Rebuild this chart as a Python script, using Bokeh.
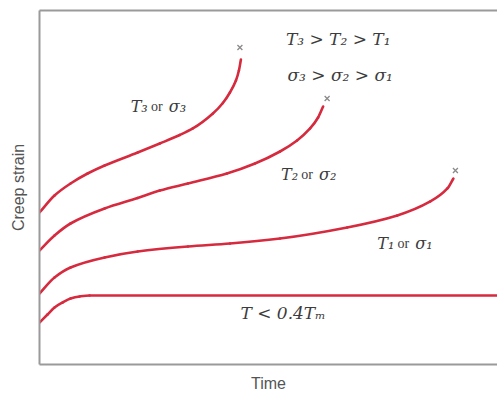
from bokeh.plotting import figure
from bokeh.models import Range1d, LinearAxis, FixedTicker, ColumnDataSource
from bokeh.core.properties import value
from bokeh.embed import file_html
from bokeh.resources import INLINE

# ---- data (time, creep strain) ----
low_t = [0, 1.75, 3.28, 5.03, 6.78, 8.75, 10.94, 100]
low_e = [11.86, 14.12, 16.10, 17.51, 18.64, 19.21, 19.49, 19.49]

t1_t = [0, 3.28, 6.78, 14.22, 21.44, 32.39, 41.58, 52.52, 67.18, 78.12, 85.34, 89.06, 90.37]
t1_e = [20.06, 24.58, 27.40, 30.23, 31.92, 33.33, 34.18, 35.59, 38.70, 42.09, 46.05, 49.72, 52.54]

t2_t = [0, 3.28, 6.78, 14.22, 21.44, 26.26, 32.39, 40.92, 47.05, 52.52, 56.24, 59.08, 60.83, 61.93]
t2_e = [32.20, 36.44, 39.83, 44.07, 47.03, 49.15, 51.13, 53.95, 56.78, 60.17, 63.28, 66.67, 69.77, 72.88]

t3_t = [0, 3.28, 6.78, 10.50, 14.22, 21.44, 26.26, 30.63, 33.48, 37.86, 40.04, 41.58, 42.89, 43.54, 43.98]
t3_e = [42.94, 47.74, 51.13, 53.95, 56.21, 59.89, 62.43, 64.83, 66.67, 70.90, 73.87, 76.84, 80.23, 83.05, 86.16]

# rupture points
rup_t = [90.81, 62.80, 43.76]
rup_e = [54.80, 75.14, 89.55]

# curve labels: temperature part / "or" / stress part
lab_T = ["T\u2083", "T\u2082", "T\u2081"]
lab_s = ["\u03c3\u2083", "\u03c3\u2082", "\u03c3\u2081"]
lab_x = [25.60, 58.42, 79.43]
lab_y = [72.88, 53.67, 34.18]

order_texts = ["T\u2083 > T\u2082 > T\u2081", "\u03c3\u2083 > \u03c3\u2082 > \u03c3\u2081"]
order_x = [65.21, 65.65]
order_y = [92.09, 81.92]

low_text = ["T < 0.4T\u2098"]
low_x = [53.17]
low_y = [14.41]

RED = "#d62a3e"
GREY = "#9a9a9a"
TXT = "#3c3c3c"
SERIF = value("DejaVu Serif")


def smooth_segments(xs, ys):
    """Monotone cubic (Fritsch-Carlson) through the read points, as Bezier segments."""
    n = len(xs)
    h = [xs[i + 1] - xs[i] for i in range(n - 1)]
    d = [(ys[i + 1] - ys[i]) / h[i] for i in range(n - 1)]
    m = [0.0] * n
    m[0], m[-1] = d[0], d[-1]
    for k in range(1, n - 1):
        if d[k - 1] * d[k] <= 0:
            m[k] = 0.0
        else:
            w1 = 2 * h[k] + h[k - 1]
            w2 = h[k] + 2 * h[k - 1]
            m[k] = (w1 + w2) / (w1 / d[k - 1] + w2 / d[k])
    seg = dict(x0=[], y0=[], x1=[], y1=[], cx0=[], cy0=[], cx1=[], cy1=[])
    for i in range(n - 1):
        seg["x0"].append(xs[i]); seg["y0"].append(ys[i])
        seg["x1"].append(xs[i + 1]); seg["y1"].append(ys[i + 1])
        seg["cx0"].append(xs[i] + h[i] / 3); seg["cy0"].append(ys[i] + m[i] * h[i] / 3)
        seg["cx1"].append(xs[i + 1] - h[i] / 3); seg["cy1"].append(ys[i + 1] - m[i + 1] * h[i] / 3)
    return ColumnDataSource(seg)


p = figure(width=497, height=395, x_range=Range1d(0, 100), y_range=Range1d(0, 100),
           output_backend="svg", toolbar_location=None,
           min_border_left=39, min_border_right=0, min_border_top=10, min_border_bottom=31)
p.grid.visible = False
p.outline_line_color = None
p.background_fill_color = "white"

for ax, lab, st in [(p.xaxis[0], "Time", 10), (p.yaxis[0], "Creep strain", 13)]:
    ax.ticker = FixedTicker(ticks=[])
    ax.minor_tick_line_color = None
    ax.major_tick_line_color = None
    ax.major_tick_out = 0
    ax.major_tick_in = 0
    ax.major_label_standoff = 0
    ax.axis_line_color = GREY
    ax.axis_line_width = 2
    ax.axis_label = lab
    ax.axis_label_standoff = st
    ax.axis_label_text_font = "Liberation Sans"
    ax.axis_label_text_font_size = "16px"
    ax.axis_label_text_font_style = "normal"
    ax.axis_label_text_color = "#555555"

top = LinearAxis(ticker=FixedTicker(ticks=[]), axis_line_color=GREY, axis_line_width=2,
                 major_tick_line_color=None, minor_tick_line_color=None,
                 major_tick_out=0, major_tick_in=0, major_label_standoff=0)
p.add_layout(top, "above")

for xs, ys in [(low_t, low_e), (t1_t, t1_e), (t2_t, t2_e), (t3_t, t3_e)]:
    p.bezier(x0="x0", y0="y0", x1="x1", y1="y1", cx0="cx0", cy0="cy0", cx1="cx1", cy1="cy1",
             source=smooth_segments(xs, ys), line_color=RED, line_width=2.6, line_cap="round")

p.scatter(rup_t, rup_e, marker="x", size=7, line_color="#8a8a8a", line_width=1.3)

src = ColumnDataSource(dict(x=lab_x, y=lab_y, T=lab_T, s=lab_s, o=["or"] * 3))
p.text("x", "y", text="o", source=src, text_align="center", text_baseline="middle",
       text_font=value("Liberation Serif"), text_font_size="14px", text_color=TXT)
p.text("x", "y", text="T", source=src, text_align="right", text_baseline="middle", x_offset=-9,
       text_font=SERIF, text_font_style="italic", text_font_size="16px", text_color=TXT)
p.text("x", "y", text="s", source=src, text_align="left", text_baseline="middle", x_offset=12,
       text_font=SERIF, text_font_style="italic", text_font_size="16px", text_color=TXT)

p.text(order_x, order_y, text=order_texts, text_align="center", text_baseline="middle",
       text_font=SERIF, text_font_style="italic", text_font_size="17px", text_color=TXT)
p.text(low_x, low_y, text=low_text, text_align="center", text_baseline="middle",
       text_font=SERIF, text_font_style="italic", text_font_size="17px", text_color=TXT)

open("out.html", "w").write(file_html(p, INLINE))
